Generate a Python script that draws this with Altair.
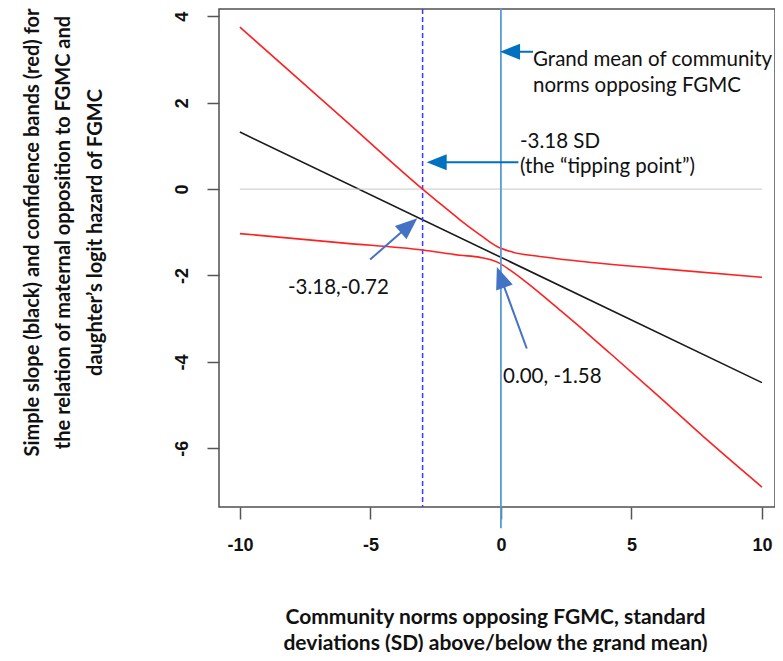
import altair as alt
import pandas as pd

# ---------------- data ----------------
x_ticks = [-10, -5, 0, 5, 10]
y_ticks = [-6, -4, -2, 0, 2, 4]

slope_x = [-10, 10]
slope_y = [1.32, -4.48]

upper_x = [-10, -6, -3.0, -2.34, -1.57, -0.8, -0.15, 0.46, 1.49, 3.03, 6.09, 10]
upper_y = [3.75, 1.61, 0.0, -0.33, -0.71, -1.06, -1.33, -1.46, -1.56, -1.67, -1.84, -2.04]

lower_x = [-10, -6, -3.0, -1.57, -0.8, -0.14, 0.34, 0.98, 1.75, 2.26, 3.0, 4.18, 6.09, 8.0, 10]
lower_y = [-1.03, -1.25, -1.41, -1.53, -1.58, -1.69, -1.87, -2.16, -2.54, -2.80, -3.18, -3.80, -4.82, -5.86, -6.9]

zero_x = [-10, 10]
zero_y = 0
tipping_x = -3.0
grand_mean_x = 0
grand_mean_y = [4.21, -7.85]

# annotations (data units)
ann_text = ["Grand mean of community", "norms opposing FGMC",
            "-3.18 SD", "(the \u201ctipping point\u201d)",
            "-3.18,-0.72", "0.00, -1.58"]
ann_x = [1.23, 1.23, 0.73, 0.73, -8.16, 0.08]
ann_y = [2.99, 2.38, 1.08, 0.51, -2.29, -4.35]

arrow_tail_x = [1.23, 0.67, -5.01, 0.99]
arrow_tail_y = [3.18, 0.62, -1.63, -3.69]
arrow_head_x = [0.35, -2.46, -3.52, -0.01]
arrow_head_y = [3.18, 0.62, -0.84, -2.04]
arrow_angle = [180, 180, 319, 250]
arrow_size = [400, 400, 484, 484]
arrow_color = ["#0070C0", "#0070C0", "#4472C4", "#4472C4"]

x_domain = [-10.8, 10.5]
y_domain = [-7.36, 4.17]

# ---------------- frames ----------------
slope_df = pd.DataFrame({"x": slope_x, "y": slope_y})
upper_df = pd.DataFrame({"x": upper_x, "y": upper_y})
lower_df = pd.DataFrame({"x": lower_x, "y": lower_y})
zero_df = pd.DataFrame({"x": [zero_x[0]], "x2": [zero_x[1]], "y": [zero_y]})
tip_df = pd.DataFrame({"x": [tipping_x]})
gm_df = pd.DataFrame({"x": [grand_mean_x], "y": [grand_mean_y[0]], "y2": [grand_mean_y[1]]})
ann_df = pd.DataFrame({"x": ann_x, "y": ann_y, "t": ann_text})
shaft_df = pd.DataFrame({"x": arrow_tail_x, "y": arrow_tail_y,
                         "x2": arrow_head_x, "y2": arrow_head_y, "c": arrow_color})
head_df = pd.DataFrame({"x": arrow_head_x, "y": arrow_head_y, "a": arrow_angle,
                        "s": arrow_size, "c": arrow_color})

xs = alt.Scale(domain=x_domain, nice=False, zero=False)
ys = alt.Scale(domain=y_domain, nice=False, zero=False)

lab_expr = "datum.value < 0 ? '-' + format(-datum.value, 'd') : format(datum.value, 'd')"

x_axis = alt.Axis(
    values=x_ticks, labelExpr=lab_expr, grid=False, domain=False,
    tickColor="#555555", tickWidth=1.5, tickSize=12, labelPadding=17,
    labelFont="Liberation Sans", labelFontWeight="bold", labelFontSize=18, labelColor="#111111",
    title=["Community norms opposing FGMC, standard",
           "deviations (SD) above/below the grand mean)"],
    titleFont="Lato", titleFontWeight="bold", titleFontSize=21, titleLineHeight=26,
    titleColor="#111111", titleX=276, titleY=110, titleBaseline="middle", titleAlign="center",
)
y_axis = alt.Axis(
    values=y_ticks, labelExpr=lab_expr, grid=False, domain=False,
    tickColor="#555555", tickWidth=1.5, tickSize=12, labelPadding=16,
    labelAngle=270, labelAlign="center", labelBaseline="bottom",
    labelFont="Liberation Sans", labelFontWeight="bold", labelFontSize=18, labelColor="#111111",
    title=["Simple slope (black) and confidence bands (red) for",
           "the relation of maternal opposition to FGMC and",
           "daughter\u2019s logit hazard of FGMC"],
    titleFont="Lato", titleFontWeight="bold", titleFontSize=20, titleLineHeight=31.5,
    titleColor="#111111", titleAngle=270, titleX=-187, titleY=223,
    titleBaseline="middle", titleAlign="center",
)


def X(f="x"):
    return alt.X(f"{f}:Q", scale=xs, axis=x_axis)


def Y(f="y"):
    return alt.Y(f"{f}:Q", scale=ys, axis=y_axis)


black = alt.Chart(slope_df).mark_line(color="#1a1a1a", strokeWidth=1.6).encode(
    x=X(), y=Y())

zero = alt.Chart(zero_df).mark_rule(color="#c8c8c8", strokeWidth=1).encode(
    x=X(), x2="x2:Q", y=Y())

tip = alt.Chart(tip_df).mark_rule(color="#3b3bff", strokeWidth=1.5, strokeDash=[5, 3]).encode(
    x=X())

upper = alt.Chart(upper_df).mark_line(color="#ff2020", strokeWidth=1.6, interpolate="monotone").encode(
    x=X(), y=Y())
lower = alt.Chart(lower_df).mark_line(color="#ff2020", strokeWidth=1.6, interpolate="monotone").encode(
    x=X(), y=Y())

gm = alt.Chart(gm_df).mark_rule(color="#5B9BD5", strokeWidth=1.8, clip=False).encode(
    x=X(), y=Y(), y2="y2:Q")

shafts = alt.Chart(shaft_df).mark_rule(strokeWidth=2, clip=False).encode(
    x=X(), y=Y(), x2="x2:Q", y2="y2:Q", color=alt.Color("c:N", scale=None))

heads = alt.Chart(head_df).mark_point(
    shape="M1,0L-1,-0.8L-1,0.8Z", filled=True, opacity=1, strokeWidth=0, clip=False
).encode(
    x=X(), y=Y(), angle=alt.Angle("a:Q", scale=None), size=alt.Size("s:Q", scale=None),
    color=alt.Color("c:N", scale=None))

texts = alt.Chart(ann_df).mark_text(
    align="left", baseline="middle", font="Lato", fontSize=20.5, color="#111111"
).encode(x=X(), y=Y(), text="t:N")

chart = alt.layer(black, zero, tip, upper, lower, gm, shafts, heads, texts).properties(
    width=556, height=498,
    autosize=alt.AutoSizeParams(type="none"),
    padding={"left": 211, "top": 1, "right": 0, "bottom": 145},
).configure_view(stroke="#505050", strokeWidth=1.5)

chart.save("out.html", embed_options={"renderer": "svg", "actions": False})
